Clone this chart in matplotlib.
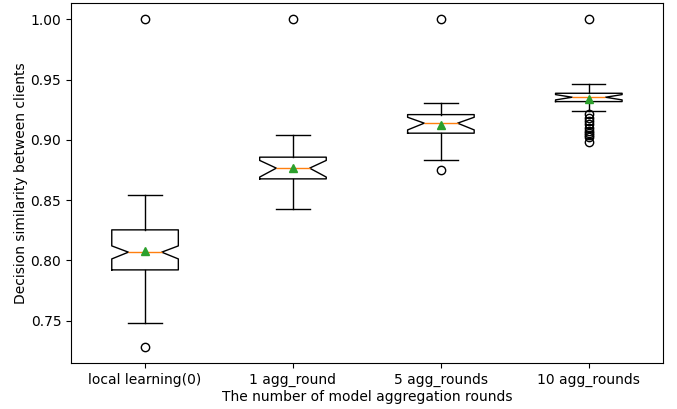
import matplotlib
matplotlib.use("Agg")
import matplotlib.pyplot as plt

# Group names on the x axis
labels = ["local learning(0)", "1 agg_round", "5 agg_rounds", "10 agg_rounds"]

# Box statistics
whislo = [0.7484, 0.8430, 0.8831, 0.9240]
q1 = [0.7921, 0.8676, 0.9055, 0.9317]
med = [0.8068, 0.8765, 0.9138, 0.9353]
q3 = [0.8253, 0.8856, 0.9209, 0.9386]
whishi = [0.8543, 0.9041, 0.9309, 0.9464]
means = [0.8080, 0.8770, 0.9125, 0.9335]
cilo = [0.8012, 0.8691, 0.9082, 0.9331]
cihi = [0.8120, 0.8829, 0.9187, 0.9375]
fliers = [
    [1.00, 0.7283],
    [1.00],
    [1.00, 0.8750],
    [1.00, 0.9215, 0.9180, 0.9160, 0.9132, 0.9100, 0.9075,
     0.9057, 0.9040, 0.9024, 0.8985],
]

stats = []
for i, name in enumerate(labels):
    stats.append({
        "label": name, "whislo": whislo[i], "q1": q1[i], "med": med[i],
        "q3": q3[i], "whishi": whishi[i], "mean": means[i],
        "cilo": cilo[i], "cihi": cihi[i], "fliers": fliers[i],
    })

fig, ax = plt.subplots(figsize=(6.77, 4.09), dpi=100)
fig.subplots_adjust(left=0.105, right=0.979, top=0.993, bottom=0.112)

ax.bxp(stats, shownotches=True, showmeans=True, widths=0.45)

ax.set_xlabel("The number of model aggregation rounds", labelpad=2)
ax.set_ylabel("Decision similarity between clients", labelpad=2)

fig.savefig("out.png", dpi=100)
